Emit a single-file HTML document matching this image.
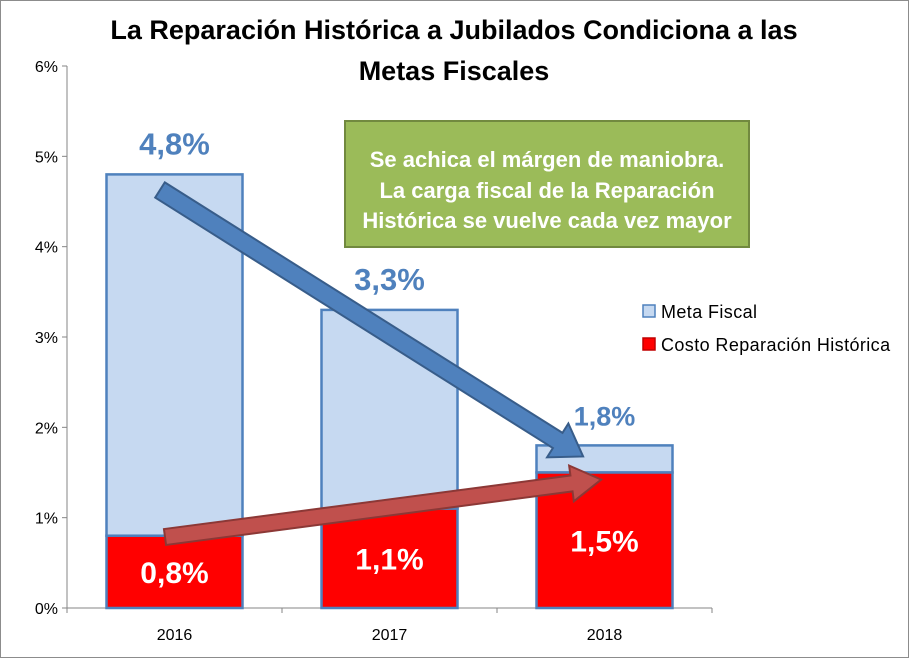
<!DOCTYPE html>
<html><head><meta charset="utf-8">
<style>
html,body{margin:0;padding:0;background:#fff;}
svg{display:block;font-family:"Liberation Sans",Calibri,sans-serif;}
</style></head>
<body>
<svg id="chart" width="909" height="658" viewBox="0 0 909 658" xmlns="http://www.w3.org/2000/svg">
  <rect x="0.5" y="0.5" width="908" height="657" fill="#fff" stroke="#8c8c8c"/>
  <text x="454" y="39" text-anchor="middle" font-size="27" font-weight="bold" fill="#000">La Reparación Histórica a Jubilados Condiciona a las</text>
  <text x="454" y="80" text-anchor="middle" font-size="27" font-weight="bold" fill="#000">Metas Fiscales</text>
  <g id="axes"></g>
  <g id="bars"></g>
  <g id="labels"></g>
  <!-- legend -->
  <rect x="643" y="305" width="12" height="12" fill="#c6d9f1" stroke="#4f81bd" stroke-width="1.5"/>
  <text x="661" y="318" font-size="18" letter-spacing="0.4" fill="#000">Meta Fiscal</text>
  <rect x="643" y="338" width="12" height="12" fill="#ff0000" stroke="#c00000" stroke-width="1.5"/>
  <text x="661" y="351" font-size="18" letter-spacing="0.4" fill="#000">Costo Reparación Histórica</text>
  <!-- annotation box -->
  <rect x="345" y="121" width="404" height="126" fill="#9bbb59" stroke="#71893f" stroke-width="2"/>
  <text x="547" y="167" text-anchor="middle" font-size="22" font-weight="bold" fill="#fff">Se achica el márgen de maniobra.</text>
  <text x="547" y="198" text-anchor="middle" font-size="22" font-weight="bold" fill="#fff">La carga fiscal de la Reparación</text>
  <text x="547" y="228" text-anchor="middle" font-size="22" font-weight="bold" fill="#fff">Histórica se vuelve cada vez mayor</text>
  <!-- arrows -->
  <g transform="translate(160,190) rotate(32.2)">
    <polygon points="0,-9 470,-9 470,-20 500,0 470,20 470,9 0,9" fill="#4f81bd" stroke="#385d8a" stroke-width="2"/>
  </g>
  <g transform="translate(165,537) rotate(-7.5)">
    <polygon points="0,-8 410,-8 410,-18 440,0 410,18 410,8 0,8" fill="#c0504d" stroke="#8c3836" stroke-width="2"/>
  </g>
</svg>
<script>
const categories = ["2016","2017","2018"];
const metaFiscal = [4.8, 3.3, 1.8];
const costoReparacion = [0.8, 1.1, 1.5];
const yTicks = [0,1,2,3,4,5,6];
const metaLabels = ["4,8%","3,3%","1,8%"];
const costoLabels = ["0,8%","1,1%","1,5%"];

const NS = "http://www.w3.org/2000/svg";
const x0 = 67, plotW = 645, y0 = 608, yTop = 66, yMax = 6;
const band = plotW / categories.length;
const barW = 136;
function xc(i){ return x0 + band*(i+0.5); }
function y(v){ return y0 - (v/yMax)*(y0-yTop); }
function mk(tag, attrs, parent){
  const e = document.createElementNS(NS, tag);
  for (const k in attrs) e.setAttribute(k, attrs[k]);
  parent.appendChild(e); return e;
}
const axes = document.getElementById("axes");
const bars = document.getElementById("bars");
const labels = document.getElementById("labels");

let ax = mk("line",{x1:x0,y1:yTop,x2:x0,y2:y0,stroke:"#868686","stroke-width":1},axes);


let bx = mk("line",{x1:x0,y1:y0,x2:x0+plotW,y2:y0,stroke:"#868686","stroke-width":1},axes);



yTicks.forEach(t=>{
  const tk = mk("line",{x1:x0-5,y1:y(t),x2:x0,y2:y(t),stroke:"#868686"},axes);
  
  
  const tl = mk("text",{x:x0-9,y:y(t)+6,"text-anchor":"end","font-size":16,fill:"#000"},axes);
  tl.textContent = t + "%";
  
  
});
for (let i=0;i<=categories.length;i++){
  const tk = mk("line",{x1:x0+band*i,y1:y0,x2:x0+band*i,y2:y0+5,stroke:"#868686"},axes);
  
  
}
categories.forEach((c,i)=>{
  const tl = mk("text",{x:xc(i),y:y0+32,"text-anchor":"middle","font-size":16,fill:"#000"},axes);
  tl.textContent = c;
  
  

  const bTop = y(metaFiscal[i]), rTop = y(costoReparacion[i]);
  const mb = mk("rect",{x:xc(i)-barW/2,y:bTop,width:barW,height:rTop-bTop,fill:"#c6d9f1",stroke:"#4f81bd","stroke-width":2.5},bars);
  
  
  const rb = mk("rect",{x:xc(i)-barW/2,y:rTop,width:barW,height:y0-rTop,fill:"#ff0000",stroke:"#4f81bd","stroke-width":2.5},bars);
  
  

  const ml = mk("text",{x:xc(i),y:bTop-20,"text-anchor":"middle","font-size": i===2?27:31,"font-weight":"bold",fill:"#4f81bd"},labels);
  ml.textContent = metaLabels[i];
  
  
  const cl = mk("text",{x:xc(i),y:(rTop+y0)/2+11,"text-anchor":"middle","font-size":30,"font-weight":"bold",fill:"#fff"},labels);
  cl.textContent = costoLabels[i];
  
  
});
</script>
</body></html>
